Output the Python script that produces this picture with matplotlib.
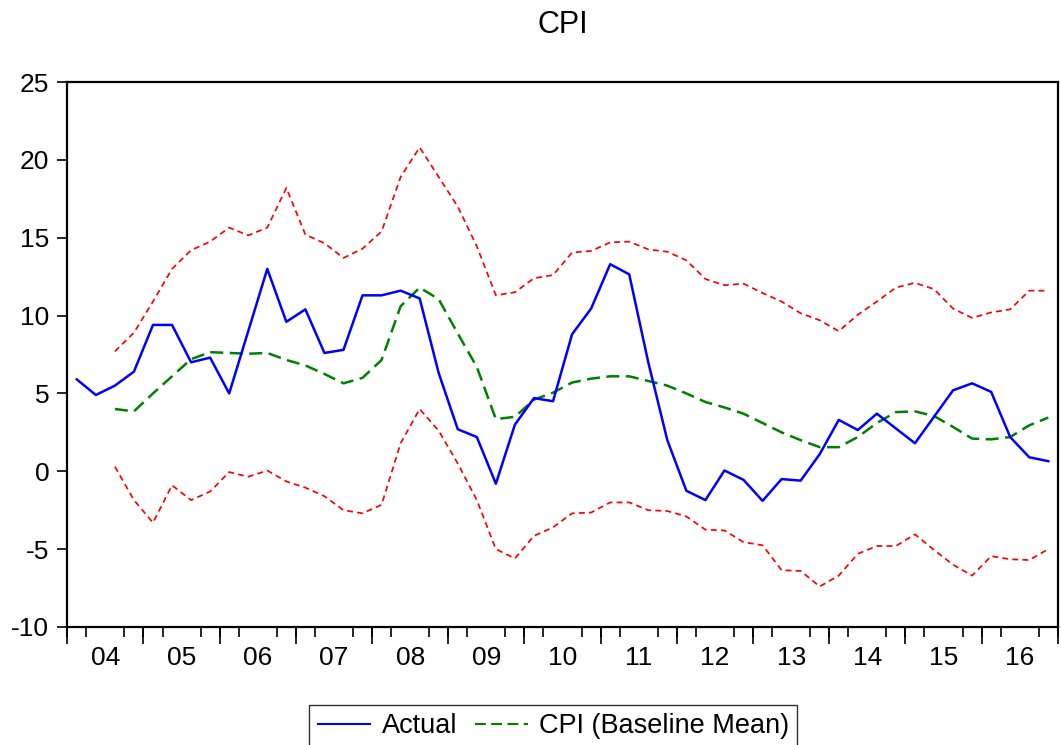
import numpy as np
import matplotlib
matplotlib.use("Agg")
import matplotlib.pyplot as plt

# Quarterly observations, 2004Q1 .. 2016Q4
years = [str(y)[-2:].zfill(2) for y in range(2004, 2017)]

actual = [5.9, 4.9, 5.5, 6.4, 9.4, 9.4, 7.0, 7.3,
          5.0, 9.0, 13.0, 9.6, 10.4, 7.6, 7.8, 11.3,
          11.3, 11.6, 11.1, 6.3, 2.7, 2.2, -0.8, 3.0,
          4.7, 4.5, 8.8, 10.45, 13.3, 12.65, 7.0, 2.0,
          -1.25, -1.85, 0.05, -0.55, -1.9, -0.5, -0.6, 1.1,
          3.3, 2.65, 3.7, 2.75, 1.8, 3.5, 5.2, 5.65,
          5.1, 2.2, 0.9, 0.65]

# Forecast series begin in 2004Q3
forecast_start = 2
baseline_mean = [4.0, 3.85, 5.0, 6.1, 7.2, 7.65, 7.6, 7.55,
                 7.6, 7.15, 6.8, 6.25, 5.65, 6.0, 7.15, 10.6,
                 11.8, 11.05, 8.85, 6.7, 3.35, 3.5, 4.6, 5.05,
                 5.7, 5.95, 6.1, 6.1, 5.8, 5.5, 5.0, 4.45,
                 4.1, 3.7, 3.1, 2.5, 2.0, 1.55, 1.55, 2.2,
                 3.1, 3.8, 3.85, 3.55, 2.85, 2.1, 2.05, 2.2,
                 2.95, 3.45]
upper_band = [7.7, 8.9, 10.9, 13.0, 14.2, 14.75, 15.65, 15.15,
              15.65, 18.2, 15.2, 14.65, 13.7, 14.3, 15.4, 18.9,
              20.8, 18.9, 17.0, 14.45, 11.3, 11.5, 12.4, 12.6,
              14.05, 14.15, 14.7, 14.75, 14.25, 14.1, 13.55, 12.35,
              11.95, 12.05, 11.45, 10.9, 10.15, 9.7, 9.0, 10.05,
              10.9, 11.8, 12.1, 11.7, 10.45, 9.85, 10.2, 10.4,
              11.6, 11.6]
lower_band = [0.3, -1.85, -3.3, -0.9, -1.85, -1.3, -0.05, -0.35,
              0.05, -0.65, -1.05, -1.6, -2.5, -2.7, -2.15, 1.8,
              4.0, 2.6, 0.5, -1.85, -5.0, -5.6, -4.15, -3.6,
              -2.7, -2.65, -2.0, -2.0, -2.5, -2.55, -2.9, -3.75,
              -3.8, -4.55, -4.75, -6.35, -6.4, -7.4, -6.7, -5.3,
              -4.8, -4.8, -4.05, -5.05, -6.0, -6.7, -5.45, -5.65,
              -5.7, -5.0]

n = len(actual)
x_act = np.arange(n) + 0.5
x_fc = np.arange(forecast_start, n) + 0.5

plt.rcParams['font.family'] = ['Liberation Sans', 'DejaVu Sans']
plt.rcParams['axes.unicode_minus'] = False

fig = plt.figure(figsize=(10.61, 7.45), dpi=100)
ax = fig.add_axes([0.0634, 0.1584, 0.997 - 0.0634, 0.8899 - 0.1584])

ax.plot(x_fc, upper_band, color='#FF0000', lw=1.25, dashes=(3.4, 2.4))
ax.plot(x_fc, lower_band, color='#FF0000', lw=1.25, dashes=(3.4, 2.4))
l_mean, = ax.plot(x_fc, baseline_mean, color='#008000', lw=1.8, dashes=(5.2, 2.6),
                  label='CPI (Baseline Mean)')
l_act, = ax.plot(x_act, actual, color='#0000FF', lw=1.8, label='Actual')

ax.set_xlim(0, n)
ax.set_ylim(-10, 25)
ax.set_yticks(np.arange(-10, 26, 5))
ax.tick_params(axis='y', direction='out', length=7, width=1.2, pad=6,
               labelsize=19)

# Year labels centred in each year; quarter ticks as minor ticks
ax.set_xticks(np.arange(2, n, 4))
ax.set_xticklabels(years)
ax.set_xticks(np.arange(0, n + 1, 1), minor=True)
ax.tick_params(axis='x', which='major', length=0, pad=14, labelsize=19)
ax.tick_params(axis='x', which='minor', direction='out', length=7, width=1.2)

# Longer ticks at year boundaries
sec = ax.secondary_xaxis('bottom')
sec.set_xticks(np.arange(0, n + 1, 4))
sec.set_xticklabels([])
sec.tick_params(axis='x', direction='out', length=12, width=1.2)
sec.spines['bottom'].set_visible(False)

for s in ax.spines.values():
    s.set_linewidth(1.6)

fig.text(0.5303, 1 - 25 / 745, 'CPI', ha='center', va='center', fontsize=22)

leg = fig.legend(handles=[l_act, l_mean], loc='upper center',
                 bbox_to_anchor=(0.5215, 1 - 705 / 745), ncol=2,
                 fontsize=19.5, frameon=True, fancybox=False, shadow=False,
                 handlelength=1.95, handletextpad=0.42, columnspacing=0.65,
                 borderpad=0.3, borderaxespad=0)
leg.get_frame().set_edgecolor('black')
leg.get_frame().set_linewidth(1.0)
for h in leg.legend_handles:
    h.set_linewidth(1.5)

fig.savefig('out.png', dpi=100)
